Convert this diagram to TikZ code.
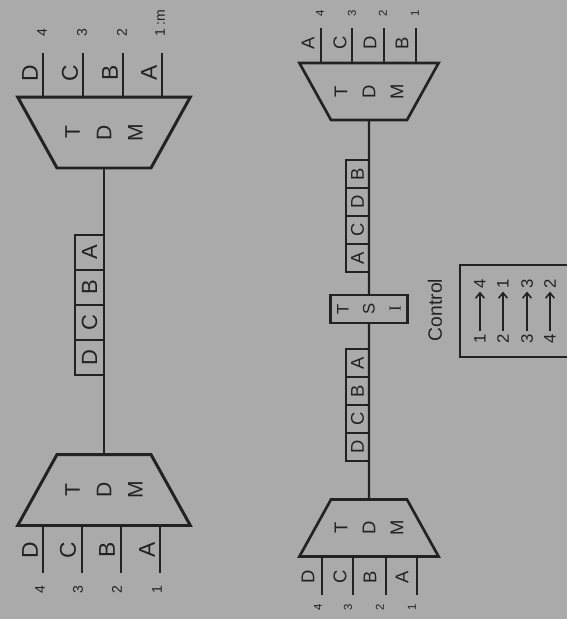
\documentclass[tikz,border=0pt]{standalone}
\usepackage{fontspec}
\setmainfont{Liberation Sans}
\newfontfamily\serifface{Liberation Serif}
\usepackage{tikz}
\usetikzlibrary{shapes.geometric,arrows.meta,positioning}
\definecolor{paper}{RGB}{170,170,170}
\definecolor{ink}{RGB}{34,34,34}
\newcommand{\upr}[1]{\rotatebox{90}{#1}}

\begin{document}
\begin{tikzpicture}[x=0.02cm,y=-0.02cm,node distance=0pt]
  \tikzstyle{mux}=[trapezium,draw=ink,inner sep=0pt,outer sep=0pt,text depth=0pt]
  \tikzstyle{muxin}=[mux,trapezium left angle=119,trapezium right angle=119]
  \tikzstyle{muxout}=[mux,trapezium left angle=61,trapezium right angle=61]
  \tikzstyle{bigmux}=[text width=1.88cm,text height=1.42cm,line width=1.7pt]
  \tikzstyle{smallmux}=[text width=1.52cm,text height=1.14cm,line width=1.5pt]
  \tikzstyle{muxtxt}=[rotate=90,align=center,text=ink,inner sep=0pt]
  \tikzstyle{wire}=[draw=ink,line width=1.6pt]
  \tikzstyle{thinwire}=[draw=ink,line width=1.4pt]
  \tikzstyle{link}=[draw=ink,line width=1.2pt]
  \tikzstyle{sig}=[rotate=90,text=ink,inner sep=1pt]
  \tikzstyle{pkt}=[rectangle,draw=ink,inner sep=0pt,outer sep=0pt,text=ink]
  \tikzstyle{bigpkt}=[pkt,line width=1.5pt,minimum width=0.58cm,minimum height=0.7cm,font=\fontsize{12.5}{14}\selectfont]
  \tikzstyle{smallpkt}=[pkt,line width=1.3pt,minimum width=0.46cm,minimum height=0.56cm,font=\fontsize{10.5}{12}\selectfont]
  \tikzstyle{mapnum}=[rotate=90,text=ink,inner sep=1.5pt,font=\fontsize{9.5}{11}\selectfont]

  \useasboundingbox (0,0) rectangle (567,619);
  \fill[paper] (0,0) rectangle (567,619);

  % plain TDM link
  \node[muxin,bigmux] (tdmA) at (104,132.5) {};
  \node[muxtxt,font=\fontsize{12}{17.9}\selectfont] (tdmAtxt) at (tdmA) {T\\D\\M};
  \node[muxout,bigmux] (tdmB) at (104,490) {};
  \node[muxtxt,font=\fontsize{12}{17.9}\selectfont] (tdmBtxt) at (tdmB) {T\\D\\M};

  \coordinate (inA4) at (43,53);
  \coordinate (inA3) at (83,53);
  \coordinate (inA2) at (123,53);
  \coordinate (inA1) at (162,53);
  \draw[wire] (inA4) -- (inA4 |- tdmA.north);
  \draw[wire] (inA3) -- (inA3 |- tdmA.north);
  \draw[wire] (inA2) -- (inA2 |- tdmA.north);
  \draw[wire] (inA1) -- (inA1 |- tdmA.north);
  \node[sig,font=\fontsize{13}{15}\selectfont] (sigA4) at (30,73) {D};
  \node[sig,font=\fontsize{13}{15}\selectfont] (sigA3) at (70,73) {C};
  \node[sig,font=\fontsize{13}{15}\selectfont] (sigA2) at (110,73) {B};
  \node[sig,font=\fontsize{13}{15}\selectfont] (sigA1) at (149,73) {A};
  \node[sig,font=\fontsize{8}{9}\selectfont] (numA4) at (42,33) {4};
  \node[sig,font=\fontsize{8}{9}\selectfont] (numA3) at (82,33) {3};
  \node[sig,font=\fontsize{8}{9}\selectfont] (numA2) at (122,33) {2};
  \node[sig,font=\fontsize{8}{9}\selectfont,anchor=west] (numA1) at (160,39) {1 :m};

  \coordinate (outB4) at (43,573);
  \coordinate (outB3) at (82,573);
  \coordinate (outB2) at (121,573);
  \coordinate (outB1) at (160,573);
  \draw[wire] (outB4 |- tdmB.south) -- (outB4);
  \draw[wire] (outB3 |- tdmB.south) -- (outB3);
  \draw[wire] (outB2 |- tdmB.south) -- (outB2);
  \draw[wire] (outB1 |- tdmB.south) -- (outB1);
  \node[sig,font=\fontsize{13}{15}\selectfont] (sigB4) at (30,550) {D};
  \node[sig,font=\fontsize{13}{15}\selectfont] (sigB3) at (68,550) {C};
  \node[sig,font=\fontsize{13}{15}\selectfont] (sigB2) at (107,550) {B};
  \node[sig,font=\fontsize{13}{15}\selectfont] (sigB1) at (147,550) {A};
  \node[sig,font=\fontsize{8}{9}\selectfont] (numB4) at (40,590) {4};
  \node[sig,font=\fontsize{8}{9}\selectfont] (numB3) at (78,590) {3};
  \node[sig,font=\fontsize{8}{9}\selectfont] (numB2) at (117,590) {2};
  \node[sig,font=\fontsize{8}{9}\selectfont] (numB1) at (157,590) {1};

  \draw[link] (tdmA.south) -- (tdmB.north);
  \node[bigpkt] (pA1) at (89.5,252.5) {\upr{A}};
  \node[bigpkt,below=of pA1] (pA2) {\upr{B}};
  \node[bigpkt,below=of pA2] (pA3) {\upr{C}};
  \node[bigpkt,below=of pA3] (pA4) {\upr{D}};

  % TDM link with time slot interchange
  \node[muxin,smallmux] (tdmC) at (369,91.5) {};
  \node[muxtxt,font=\fontsize{10.5}{15.9}\selectfont] (tdmCtxt) at (tdmC) {T\\D\\M};
  \node[muxout,smallmux] (tdmD) at (369,528) {};
  \node[muxtxt,font=\fontsize{10.5}{15.9}\selectfont] (tdmDtxt) at (tdmD) {T\\D\\M};
  \node[pkt,line width=1.5pt,minimum width=1.54cm,minimum height=0.56cm] (tsi) at (369,309) {};
  \node[muxtxt,font=\fontsize{9.5}{14.8}\selectfont] (tsitxt) at (tsi) {T\\S\\{\serifface I}};

  \coordinate (inC4) at (321,28);
  \coordinate (inC3) at (352,28);
  \coordinate (inC2) at (384,28);
  \coordinate (inC1) at (416,28);
  \draw[thinwire] (inC4) -- (inC4 |- tdmC.north);
  \draw[thinwire] (inC3) -- (inC3 |- tdmC.north);
  \draw[thinwire] (inC2) -- (inC2 |- tdmC.north);
  \draw[thinwire] (inC1) -- (inC1 |- tdmC.north);
  \node[sig,font=\fontsize{10.5}{12}\selectfont] (sigC4) at (308,43) {A};
  \node[sig,font=\fontsize{10.5}{12}\selectfont] (sigC3) at (340,43) {C};
  \node[sig,font=\fontsize{10.5}{12}\selectfont] (sigC2) at (370,43) {D};
  \node[sig,font=\fontsize{10.5}{12}\selectfont] (sigC1) at (402,43) {B};
  \node[sig,font=\fontsize{6.5}{7}\selectfont] (numC4) at (320,13) {4};
  \node[sig,font=\fontsize{6.5}{7}\selectfont] (numC3) at (352,13) {3};
  \node[sig,font=\fontsize{6.5}{7}\selectfont] (numC2) at (383,13) {2};
  \node[sig,font=\fontsize{6.5}{7}\selectfont] (numC1) at (415,13) {1};

  \coordinate (outD4) at (322,595);
  \coordinate (outD3) at (353,595);
  \coordinate (outD2) at (386,595);
  \coordinate (outD1) at (417,595);
  \draw[thinwire] (outD4 |- tdmD.south) -- (outD4);
  \draw[thinwire] (outD3 |- tdmD.south) -- (outD3);
  \draw[thinwire] (outD2 |- tdmD.south) -- (outD2);
  \draw[thinwire] (outD1 |- tdmD.south) -- (outD1);
  \node[sig,font=\fontsize{10.5}{12}\selectfont] (sigD4) at (308,577) {D};
  \node[sig,font=\fontsize{10.5}{12}\selectfont] (sigD3) at (340,577) {C};
  \node[sig,font=\fontsize{10.5}{12}\selectfont] (sigD2) at (370,577) {B};
  \node[sig,font=\fontsize{10.5}{12}\selectfont] (sigD1) at (402,577) {A};
  \node[sig,font=\fontsize{6.5}{7}\selectfont] (numD4) at (318,607) {4};
  \node[sig,font=\fontsize{6.5}{7}\selectfont] (numD3) at (348,607) {3};
  \node[sig,font=\fontsize{6.5}{7}\selectfont] (numD2) at (380,607) {2};
  \node[sig,font=\fontsize{6.5}{7}\selectfont] (numD1) at (412,607) {1};

  \draw[link] (tdmC.south) -- (tsi.north);
  \draw[link] (tsi.south) -- (tdmD.north);
  \node[smallpkt] (pC1) at (357.5,174) {\upr{B}};
  \node[smallpkt,below=of pC1] (pC2) {\upr{D}};
  \node[smallpkt,below=of pC2] (pC3) {\upr{C}};
  \node[smallpkt,below=of pC3] (pC4) {\upr{A}};
  \node[smallpkt] (pD1) at (357.5,363) {\upr{A}};
  \node[smallpkt,below=of pD1] (pD2) {\upr{B}};
  \node[smallpkt,below=of pD2] (pD3) {\upr{C}};
  \node[smallpkt,below=of pD3] (pD4) {\upr{D}};

  % slot map
  \node[sig,font=\fontsize{11}{13}\selectfont] (ctltxt) at (435,310) {Control};
  \node[pkt,line width=1.6pt,minimum width=2.48cm,minimum height=1.84cm] (ctl) at (522,311) {};
  \node[mapnum] (src1) at (480,339) {1};
  \node[mapnum] (dst1) at (480,284) {4};
  \node[mapnum] (src2) at (503,339) {2};
  \node[mapnum] (dst2) at (503,284) {1};
  \node[mapnum] (src3) at (527,339) {3};
  \node[mapnum] (dst3) at (527,284) {3};
  \node[mapnum] (src4) at (550,339) {4};
  \node[mapnum] (dst4) at (550,284) {2};
  \draw[ink,line width=0.9pt,-{Straight Barb[length=3pt,width=5pt]}] (src1) -- (dst1);
  \draw[ink,line width=0.9pt,-{Straight Barb[length=3pt,width=5pt]}] (src2) -- (dst2);
  \draw[ink,line width=0.9pt,-{Straight Barb[length=3pt,width=5pt]}] (src3) -- (dst3);
  \draw[ink,line width=0.9pt,-{Straight Barb[length=3pt,width=5pt]}] (src4) -- (dst4);
\end{tikzpicture}
\end{document}
